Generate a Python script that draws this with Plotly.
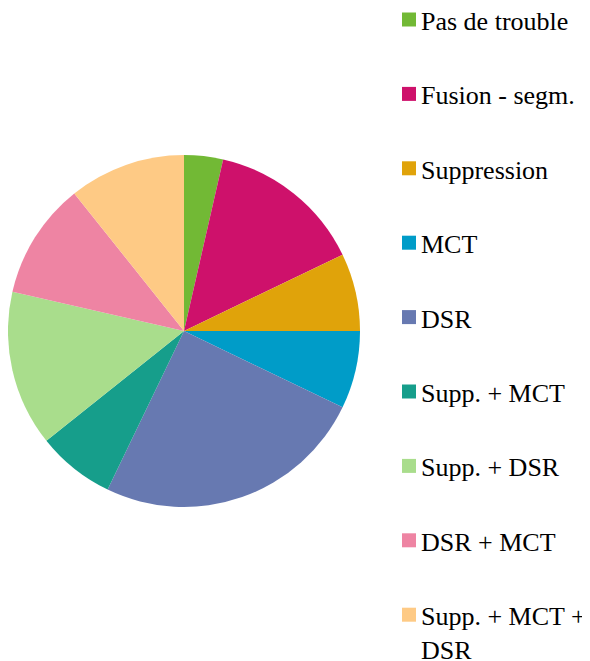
import plotly.graph_objects as go

labels = ["Pas de trouble", "Fusion - segm.", "Suppression", "MCT", "DSR",
          "Supp. + MCT", "Supp. + DSR", "DSR + MCT", "Supp. + MCT + DSR"]
legend_labels = ["Pas de trouble", "Fusion - segm.", "Suppression", "MCT", "DSR",
                 "Supp. + MCT", "Supp. + DSR", "DSR + MCT", "Supp. + MCT +<br>DSR"]
values = [1, 4, 2, 2, 7, 2, 4, 3, 3]
colors = ["#72B935", "#CE116B", "#E0A30A", "#009CC8", "#6779B1",
          "#169E8B", "#A9DD8C", "#EE84A3", "#FECA85"]

W, H = 590, 661
OFF = 8  # page body offset


def px_x(x):
    return (x - OFF) / W


def px_y(y):
    return 1 - (y - OFF) / H


fig = go.Figure()
fig.add_trace(go.Pie(
    labels=labels, values=values, sort=False, direction="clockwise", rotation=0,
    marker=dict(colors=colors, line=dict(width=0)),
    textinfo="none", hoverinfo="label+value", showlegend=False,
    domain=dict(x=[px_x(8), px_x(360)], y=[px_y(507), px_y(155)]),
))

# legend drawn as swatches + labels, stacked by index
LEG_X0, SW, STEP, Y0 = 402, 14, 74.4, 19.5
LINE = 34
for i, (lab, col) in enumerate(zip(legend_labels, colors)):
    cy = Y0 + i * STEP
    nlines = lab.count("<br>") + 1
    fig.add_shape(type="rect", xref="paper", yref="paper",
                  x0=px_x(LEG_X0), x1=px_x(LEG_X0 + SW),
                  y0=px_y(cy + SW / 2), y1=px_y(cy - SW / 2),
                  fillcolor=col, line=dict(width=0))
    fig.add_annotation(xref="paper", yref="paper", x=px_x(LEG_X0 + SW + 4),
                       y=px_y(cy + 2 + (nlines - 1) * LINE / 2),
                       xanchor="left", yanchor="middle", borderpad=0,
                       text=lab, showarrow=False, align="left",
                       font=dict(family="Liberation Serif", size=26, color="black"))

fig.update_layout(
    width=W, height=H,
    margin=dict(l=0, r=0, t=0, b=0),
    paper_bgcolor="white", plot_bgcolor="white",
    font=dict(family="Liberation Serif", size=26, color="black"),
    showlegend=False,
)
fig.write_html("out.html")
